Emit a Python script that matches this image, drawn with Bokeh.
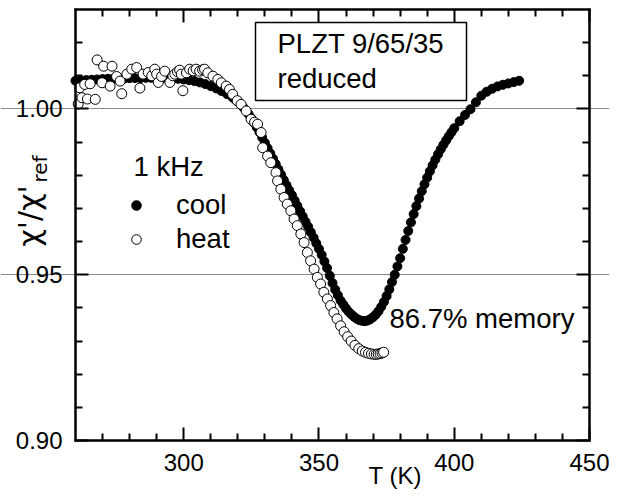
import math
from bokeh.plotting import figure
from bokeh.models import (Range1d, LinearAxis, FixedTicker, PrintfTickFormatter, Grid,
                          CustomJSTickFormatter, Label, BoxAnnotation, Legend, LegendItem)
from bokeh.embed import file_html
from bokeh.resources import INLINE

# ---------------- data ----------------
cool_T = [260, 262, 264, 266, 268, 270, 272, 274, 276, 278, 280, 282, 284, 286, 288, 290,
          292, 294, 296, 298, 300, 302, 304, 306, 308, 310, 312, 314, 316, 318, 319, 320,
          321, 322, 323, 324, 325, 326, 327, 328, 329, 330, 331, 332, 333, 334, 335, 336,
          337, 338, 339, 340, 341, 342, 343, 344, 345, 346, 347, 348, 349, 350, 351, 352,
          353, 354, 355, 356, 357, 358, 359, 360, 361, 362, 363, 364, 365, 366, 367, 368,
          369, 370, 371, 372, 373, 374, 375, 376, 377, 378, 379, 380, 381, 382, 383, 384,
          385, 386, 387, 388, 389, 390, 391, 392, 393, 394, 395, 396, 397, 398, 399, 400,
          402, 404, 406, 408, 410, 412, 414, 416, 418, 420, 422, 424]
cool_chi = [1.0085, 1.0086, 1.0087, 1.0088, 1.0089, 1.0090, 1.0091, 1.0091, 1.0092, 1.0092,
            1.0093, 1.0093, 1.0093, 1.0094, 1.0094, 1.0094, 1.0093, 1.0093, 1.0092, 1.0091,
            1.0089, 1.0087, 1.0084, 1.0080, 1.0075, 1.0069, 1.0062, 1.0054, 1.0045, 1.0035,
            1.0029, 1.0022, 1.0014, 1.0005, 0.9995, 0.9984, 0.9972, 0.9958, 0.9945, 0.9930,
            0.9914, 0.9898, 0.9882, 0.9866, 0.9850, 0.9834, 0.9818, 0.9802, 0.9786, 0.9770,
            0.9755, 0.9740, 0.9724, 0.9708, 0.9692, 0.9676, 0.9660, 0.9645, 0.9628, 0.9612,
            0.9595, 0.9578, 0.9560, 0.9540, 0.9520, 0.9497, 0.9475, 0.9455, 0.9438, 0.9422,
            0.9410, 0.9398, 0.9388, 0.9380, 0.9373, 0.9367, 0.9363, 0.9361, 0.9360, 0.9362,
            0.9366, 0.9372, 0.9380, 0.9390, 0.9403, 0.9418, 0.9436, 0.9456, 0.9478, 0.9500,
            0.9525, 0.9550, 0.9578, 0.9605, 0.9632, 0.9658, 0.9683, 0.9707, 0.9730, 0.9752,
            0.9773, 0.9793, 0.9812, 0.9830, 0.9847, 0.9863, 0.9878, 0.9892, 0.9905, 0.9918,
            0.9930, 0.9942, 0.9963, 0.9982, 0.9999, 1.0020, 1.0040, 1.0052, 1.0061, 1.0068,
            1.0073, 1.0077, 1.0081, 1.0085]

heat_T = [261.0, 261.6, 262.4, 263.4, 264.4, 265.4, 267.3, 268.0, 269.8, 270.4, 272.8, 273.5,
          275.2, 276.5, 277.1, 279.0, 280.8, 282.6, 283.8, 285.0, 286.9, 288.2, 289.3, 290.0,
          290.6, 291.8, 293.0, 294.9, 296.0, 296.7, 297.7, 298.5, 299.1, 299.7, 301.0, 302.2,
          303.5, 304.6, 305.9, 307.0, 307.7, 308.9, 310.8, 312.6, 313.9, 315.7, 316.9, 318.1,
          319.8, 321.2, 323.1, 324.9, 326.2, 327.3, 328.6, 329.2, 331.0, 332.2, 334.1, 334.7,
          335.9, 337.1, 338.3, 339.6, 340.8, 342.0, 343.3, 344.5, 345.7, 346.9, 348.2, 349.4,
          350.6, 351.8, 353.1, 354.3, 355.5, 356.7, 358.0, 359.3, 360.6, 361.9, 363.3, 364.7,
          366.0, 367.2, 368.3, 369.4, 370.4, 371.2, 371.9, 372.6, 373.3, 373.9]
heat_chi = [1.0015, 1.0064, 1.0034, 1.0074, 1.0030, 1.0076, 1.0029, 1.0148, 1.0079, 1.0129,
            1.0069, 1.0129, 1.0098, 1.0084, 1.0046, 1.0105, 1.0120, 1.0125, 1.0063, 1.0105,
            1.0110, 1.0100, 1.0120, 1.0105, 1.0080, 1.0098, 1.0114, 1.0080, 1.0100, 1.0105,
            1.0112, 1.0117, 1.0105, 1.0055, 1.0109, 1.0120, 1.0115, 1.0120, 1.0114, 1.0118,
            1.0120, 1.0109, 1.0099, 1.0089, 1.0079, 1.0069, 1.0059, 1.0044, 1.0025, 1.0014,
            0.9994, 0.9969, 0.9960, 0.9954, 0.9929, 0.9883, 0.9858, 0.9838, 0.9808, 0.9783,
            0.9758, 0.9733, 0.9713, 0.9693, 0.9668, 0.9648, 0.9623, 0.9597, 0.9567, 0.9542,
            0.9517, 0.9492, 0.9472, 0.9447, 0.9427, 0.9407, 0.9386, 0.9367, 0.9346, 0.9328,
            0.9313, 0.9300, 0.9287, 0.9277, 0.9270, 0.9266, 0.9263, 0.9261, 0.9260, 0.9260,
            0.9261, 0.9262, 0.9264, 0.9266]

x_major = [300, 350, 400, 450]
x_minor = [270, 280, 290, 310, 320, 330, 340, 360, 370, 380, 390, 410, 420, 430, 440]
y_major = [0.90, 0.95, 1.00]
y_minor = [0.91, 0.92, 0.93, 0.94, 0.96, 0.97, 0.98, 0.99, 1.01, 1.02]
grid_lines = [0.95, 1.00]

FONT = "Liberation Sans"
TICK_FS = 24
TEXT_FS = 27.5

# axis limits of the drawn box
X0, X1 = 260, 450
Y0, Y1 = 0.90, 1.03

# page geometry: canvas size and where the axes box sits on it (pixels)
W, H = 609, 489
BOX_L, BOX_R, BOX_T, BOX_B = 75, 589, 9, 440
SX = (BOX_R - BOX_L) / (X1 - X0)      # px per K
SY = (BOX_B - BOX_T) / (Y1 - Y0)      # px per unit

# the data frame fills the whole canvas; the axes are pinned at the box edges
xr = Range1d(X0 - BOX_L / SX, X1 + (W - BOX_R) / SX)
yr = Range1d(Y0 - (H - BOX_B) / SY, Y1 + BOX_T / SY)

p = figure(width=W, height=H, output_backend="svg", toolbar_location=None, tools="",
           x_range=xr, y_range=yr, x_axis_location=None, y_axis_location=None,
           min_border=0, background_fill_color="white", border_fill_color="white")
p.outline_line_color = None
p.grid.visible = False

p.add_layout(Grid(dimension=1, ticker=FixedTicker(ticks=grid_lines), bounds=(X0, X1),
                  grid_line_color="#8a8a8a", grid_line_width=1))

hx = 1.25 / SX
hy = 1.25 / SY


def make_axis(loc, bounds, ticks, minor, formatter, standoff):
    ax = LinearAxis(fixed_location=loc, bounds=bounds)
    ax.ticker = FixedTicker(ticks=ticks, minor_ticks=minor)
    ax.formatter = formatter
    ax.axis_line_width = 2.5
    ax.axis_line_color = "black"
    ax.major_tick_in = 13
    ax.major_tick_out = 0
    ax.minor_tick_in = 7
    ax.minor_tick_out = 0
    ax.major_tick_line_width = 2
    ax.minor_tick_line_width = 2
    ax.major_tick_line_color = "black"
    ax.minor_tick_line_color = "black"
    ax.major_label_text_font = FONT
    ax.major_label_text_font_size = f"{TICK_FS}px"
    ax.major_label_text_color = "black"
    ax.major_label_standoff = standoff
    return ax


blank = CustomJSTickFormatter(code="return ''")
p.add_layout(make_axis(Y0, (X0 - hx, X1 + hx), x_major, x_minor,
                       PrintfTickFormatter(format="%d"), 13), "below")
p.add_layout(make_axis(X0, (Y0 - hy, Y1 + hy), y_major, y_minor,
                       PrintfTickFormatter(format="%.2f"), 13), "left")
p.add_layout(make_axis(Y1, (X0 - hx, X1 + hx), x_major, x_minor, blank, 0), "above")
p.add_layout(make_axis(X1, (Y0 - hy, Y1 + hy), y_major, y_minor, blank, 0), "right")

r_cool = p.scatter(cool_T, cool_chi, marker="circle", size=9,
                   fill_color="black", line_color="black", line_width=1)
r_heat = p.scatter(heat_T, heat_chi, marker="circle", size=10,
                   fill_color="white", line_color="black", line_width=1)


# pixel -> data helpers for text placement
def tx(px):
    return X0 + (px - BOX_L) / SX


def cy(py):
    return Y0 + (BOX_B - py) / SY


def text(px, base, s, fs=TEXT_FS, vertical=False, font=FONT):
    # px/base: left end and baseline of the text on the page (pixels)
    shift = 0.36 * fs
    if vertical:
        x, y, ang = tx(base - shift), cy(px), math.pi / 2
    else:
        x, y, ang = tx(px), cy(base - shift), 0.0
    p.add_layout(Label(x=x, y=y, text=s, text_font=font, text_font_size=f"{fs}px",
                       text_color="black", text_baseline="alphabetic", text_align="left",
                       angle=ang, angle_units="rad"))


p.add_layout(BoxAnnotation(left=tx(255), right=tx(466), top=cy(22), bottom=cy(100),
                           fill_alpha=0, line_color="black", line_alpha=1, line_width=1.5))
text(277, 53, "PLZT 9/65/35")
text(277, 88, "reduced")
text(389, 328, "86.7% memory")
text(133, 176, "1 kHz")
text(368, 484, "T (K)", fs=TICK_FS)
text(246, 40, "χ'/χ'", fs=30, vertical=True, font="DejaVu Sans")
text(182, 47, "ref", fs=20, vertical=True, font="DejaVu Sans")

legend = Legend(items=[LegendItem(label="cool", renderers=[r_cool]),
                       LegendItem(label="heat", renderers=[r_heat])],
                location=(124, H - 255.3))
legend.label_text_font = FONT
legend.label_text_font_size = f"{TEXT_FS}px"
legend.label_text_color = "black"
legend.label_standoff = 28
legend.glyph_width = 24
legend.glyph_height = 30
legend.label_height = 30
legend.spacing = 2
legend.padding = 0
legend.margin = 0
legend.border_line_color = None
legend.background_fill_alpha = 0
p.add_layout(legend)

open("out.html", "w").write(file_html(p, INLINE))
